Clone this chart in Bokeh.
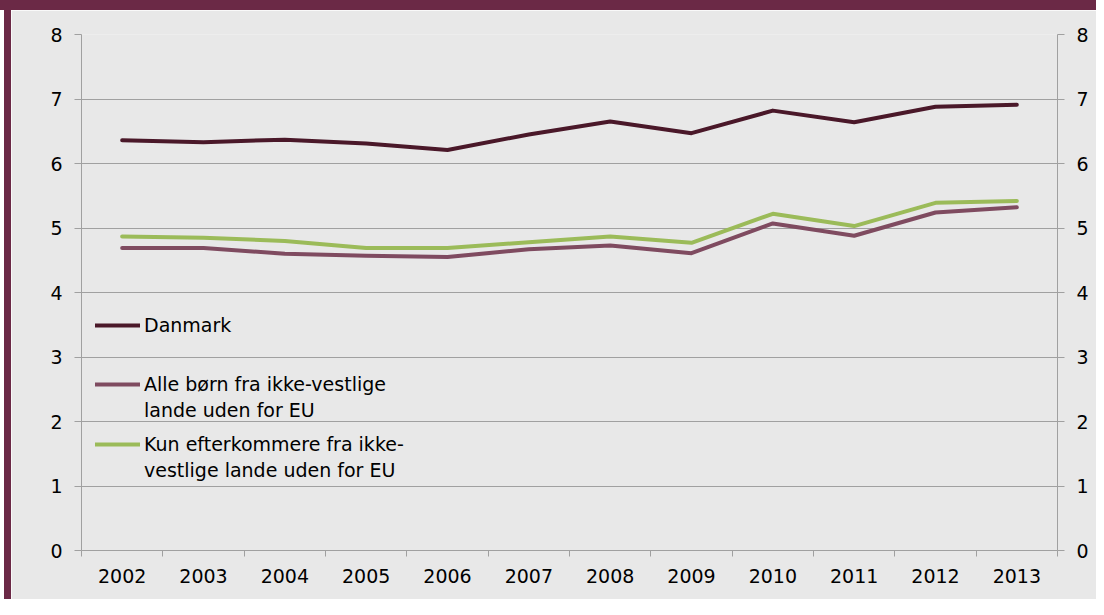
from bokeh.plotting import figure
from bokeh.models import Range1d, LinearAxis, FixedTicker, Legend, LegendItem, Div
from bokeh.layouts import column, row
from bokeh.embed import file_html
from bokeh.resources import INLINE

# ---- data ----
years = ["2002", "2003", "2004", "2005", "2006", "2007",
         "2008", "2009", "2010", "2011", "2012", "2013"]
danmark = [6.36, 6.33, 6.37, 6.31, 6.21, 6.45, 6.65, 6.47, 6.82, 6.64, 6.88, 6.91]
alle_boern = [4.69, 4.69, 4.60, 4.57, 4.55, 4.67, 4.73, 4.61, 5.07, 4.88, 5.24, 5.32]
kun_efterkommere = [4.87, 4.85, 4.80, 4.69, 4.69, 4.78, 4.87, 4.77, 5.22, 5.03, 5.39, 5.42]
y_ticks = [0, 1, 2, 3, 4, 5, 6, 7, 8]
label_danmark = ["Danmark"]
label_alle = ["Alle børn fra ikke-vestlige", "lande uden for EU"]
label_kun = ["Kun efterkommere fra ikke-", "vestlige lande uden for EU"]

# ---- styles ----
FONT = "DejaVu Sans"
FS = "19px"
BG = "#e8e8e8"
MAROON = "#6b2946"
GRID = "#a0a0a0"
C_DK = "#4a1829"
C_ALLE = "#7f4b60"
C_KUN = "#9bbb59"

x = [int(y) for y in years]

p = figure(width=1085, height=589, output_backend="svg", toolbar_location=None,
           x_range=Range1d(x[0] - 0.5, x[-1] + 0.5), y_range=Range1d(0, 8),
           min_border_left=70, min_border_right=39, min_border_top=24, min_border_bottom=49,
           background_fill_color=BG, border_fill_color=BG, outline_line_color=None,
           margin=(0, 0, 0, 0))

line_kw = dict(line_width=4, line_cap="round", line_join="round")
r_dk = p.line(x, danmark, line_color=C_DK, **line_kw)
r_alle = p.line(x, alle_boern, line_color=C_ALLE, **line_kw)
r_kun = p.line(x, kun_efterkommere, line_color=C_KUN, **line_kw)
r_blank = p.line(x, danmark, line_alpha=0)

# x axis
xa = p.xaxis[0]
xa.ticker = FixedTicker(ticks=x, minor_ticks=[v - 0.5 for v in x] + [x[-1] + 0.5])
xa.major_label_overrides = {v: s for v, s in zip(x, years)}
xa.major_tick_out = 0
xa.major_tick_in = 0
xa.minor_tick_out = 6
xa.minor_tick_in = 0
xa.minor_tick_line_color = GRID
xa.axis_line_color = GRID
xa.major_label_standoff = 12

def style_y(ax):
    ax.ticker = FixedTicker(ticks=y_ticks, minor_ticks=[])
    ax.major_tick_out = 7
    ax.major_tick_in = 0
    ax.major_tick_line_color = GRID
    ax.axis_line_color = GRID
    ax.major_label_standoff = 12

style_y(p.yaxis[0])
ra = LinearAxis()
style_y(ra)
p.add_layout(ra, "right")

for ax in [xa, p.yaxis[0], ra]:
    ax.major_label_text_font = FONT
    ax.major_label_text_font_size = FS
    ax.major_label_text_color = "#000000"

p.xgrid.visible = False
p.ygrid.ticker = FixedTicker(ticks=y_ticks)
p.ygrid.grid_line_color = GRID
p.ygrid.grid_line_width = 1

def make_legend(labels, renderer, loc):
    items = [LegendItem(label=labels[0], renderers=[renderer])]
    for extra in labels[1:]:
        items.append(LegendItem(label=extra, renderers=[r_blank]))
    lg = Legend(items=items, location=loc, padding=0, margin=0, spacing=0,
                glyph_width=45, glyph_height=26, label_height=26, label_standoff=4,
                label_text_font=FONT, label_text_font_size=FS, label_text_color="#000000",
                background_fill_alpha=0, border_line_color=None)
    p.add_layout(lg)

make_legend(label_danmark, r_dk, (14, 212))
make_legend(label_alle, r_alle, (14, 127))
make_legend(label_kun, r_kun, (14, 67))

top_bar = Div(width=1096, height=10, margin=(0, 0, 0, 0),
              styles={"background-color": MAROON})
white_strip = Div(width=4, height=589, margin=(0, 0, 0, 0),
                  styles={"background-color": "#ffffff"})
left_bar = Div(width=7, height=589, margin=(0, 0, 0, 0),
               styles={"background-color": MAROON})
layout = column(top_bar,
                row(white_strip, left_bar, p, spacing=0, margin=(0, 0, 0, 0)),
                spacing=0, margin=(0, 0, 0, 0))

open("out.html", "w").write(file_html(layout, INLINE))
